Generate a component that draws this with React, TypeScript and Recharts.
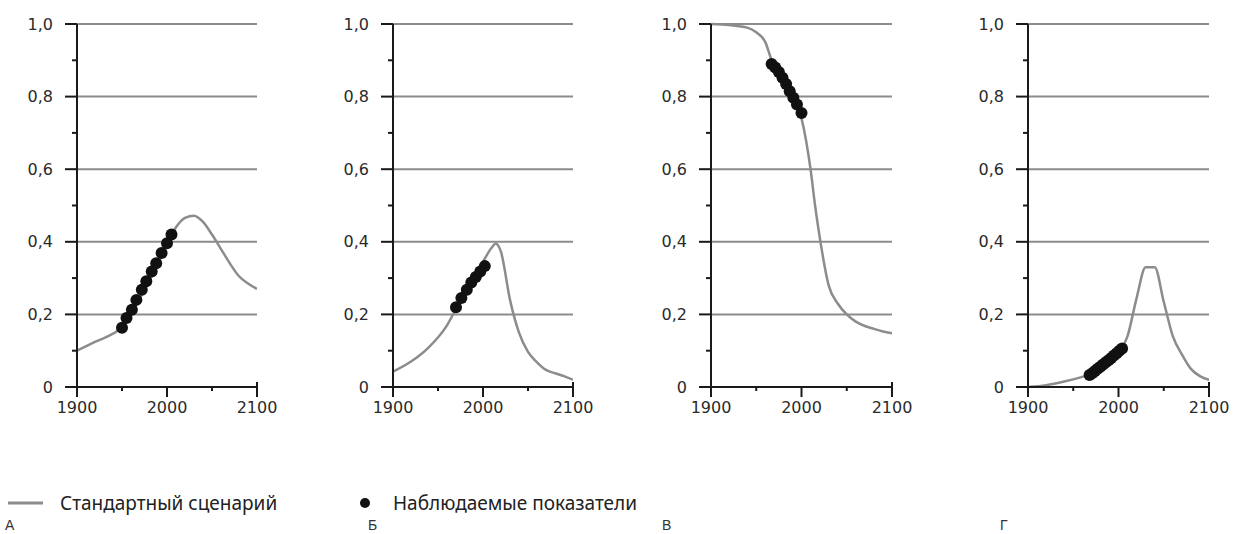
import { ComposedChart, Line, Scatter, XAxis, YAxis, ReferenceLine } from 'recharts'

const xTicks = [1900, 1950, 2000, 2050, 2100]
const xLabels = ['1900', '', '2000', '', '2100']
const yTicks = [0, 0.1, 0.2, 0.3, 0.4, 0.5, 0.6, 0.7, 0.8, 0.9, 1.0]
const yLabels = ['0', '', '0,2', '', '0,4', '', '0,6', '', '0,8', '', '1,0']
const gridValues = [0.2, 0.4, 0.6, 0.8, 1.0]

// А
const yearsA = [1900, 1920, 1945, 1950, 1960, 1970, 1980, 1990, 2000, 2010, 2020, 2030, 2040, 2050, 2060, 2070, 2080, 2090, 2100]
const lineA = [0.1, 0.124, 0.155, 0.165, 0.2, 0.245, 0.29, 0.34, 0.395, 0.44, 0.466, 0.472, 0.455, 0.42, 0.38, 0.34, 0.305, 0.285, 0.27]
const dotYearsA = [1950, 1955, 1961, 1966, 1972, 1977, 1983, 1988, 1994, 2000, 2005]
const dotsA = [0.163, 0.19, 0.213, 0.24, 0.268, 0.291, 0.318, 0.341, 0.369, 0.396, 0.42]

// Б
const yearsB = [1900, 1920, 1940, 1960, 1970, 1980, 1990, 2000, 2010, 2014, 2020, 2030, 2040, 2050, 2060, 2070, 2080, 2090, 2100]
const lineB = [0.042, 0.07, 0.11, 0.17, 0.215, 0.26, 0.3, 0.345, 0.385, 0.395, 0.372, 0.24, 0.15, 0.097, 0.068, 0.047, 0.038, 0.03, 0.02]
const dotYearsB = [1970, 1976, 1982, 1987, 1992, 1997, 2002]
const dotsB = [0.22, 0.245, 0.268, 0.288, 0.303, 0.318, 0.333]

// В
const yearsC = [1900, 1920, 1940, 1950, 1960, 1967, 1980, 1990, 2000, 2005, 2010, 2015, 2020, 2030, 2040, 2050, 2060, 2070, 2080, 2090, 2100]
const lineC = [1.0, 0.997, 0.99, 0.977, 0.95, 0.9, 0.845, 0.8, 0.74, 0.68, 0.6, 0.5, 0.415, 0.28, 0.23, 0.2, 0.18, 0.168, 0.16, 0.153, 0.148]
const dotYearsC = [1967, 1971, 1975, 1979, 1983, 1987, 1991, 1995, 2000]
const dotsC = [0.89, 0.88, 0.868, 0.852, 0.835, 0.815, 0.797, 0.778, 0.755]

// Г
const yearsD = [1900, 1920, 1940, 1960, 1970, 1980, 1990, 2000, 2010, 2020, 2030, 2040, 2050, 2060, 2070, 2080, 2090, 2100]
const lineD = [0.0, 0.005, 0.015, 0.028, 0.036, 0.052, 0.07, 0.092, 0.14, 0.245, 0.33, 0.33, 0.235, 0.14, 0.09, 0.05, 0.03, 0.02]
const dotYearsD = [1968, 1971, 1974, 1977, 1980, 1983, 1986, 1989, 1992, 1995, 1998, 2001, 2004]
const dotsD = [0.033, 0.038, 0.044, 0.05, 0.056, 0.062, 0.068, 0.074, 0.08, 0.087, 0.093, 0.1, 0.106]

const panelLetters = ['А', 'Б', 'В', 'Г']
const legendLine = 'Стандартный сценарий'
const legendDots = 'Наблюдаемые показатели'

const zip = (years: number[], vals: number[]) => years.map((year, i) => ({ year, v: vals[i] }))

const panels = [
  { left: 77, width: 180, line: zip(yearsA, lineA), dots: zip(dotYearsA, dotsA) },
  { left: 393, width: 180, line: zip(yearsB, lineB), dots: zip(dotYearsB, dotsB) },
  { left: 711, width: 181, line: zip(yearsC, lineC), dots: zip(dotYearsC, dotsC) },
  { left: 1028, width: 181, line: zip(yearsD, lineD), dots: zip(dotYearsD, dotsD) },
]

const INK = '#1a1a1a'
const GREY = '#8c8c8c'
const TICK_FONT = '"DejaVu Sans", sans-serif'

function XTick(props: any) {
  const { x, y, payload } = props
  const idx = xTicks.indexOf(payload.value)
  const label = xLabels[idx] ?? ''
  const major = label !== ''
  const last = payload.value === 2100
  return (
    <g>
      <line x1={x} x2={x} y1={last ? y - 5 : y} y2={y + (major ? 10 : 4)} stroke={INK} strokeWidth={2} />
      {major && (
        <text x={x} y={y + 26} textAnchor="middle" fontSize={16} fontFamily={TICK_FONT} fill="#2a2a2a">
          {label}
        </text>
      )}
    </g>
  )
}

function YTick(props: any) {
  const { x, y, payload } = props
  const idx = yTicks.findIndex((t) => Math.abs(t - payload.value) < 1e-6)
  const label = yLabels[idx] ?? ''
  const major = label !== ''
  return (
    <g>
      <line x1={x - (major ? 12 : 5)} x2={x} y1={y} y2={y} stroke={INK} strokeWidth={2} />
      {major && (
        <text x={x - 24} y={y} dy="0.35em" textAnchor="end" fontSize={16} fontFamily={TICK_FONT} fill="#2a2a2a">
          {label}
        </text>
      )}
    </g>
  )
}

const Dot = (p: any) => <circle cx={p.cx} cy={p.cy} r={6} fill="#111" />

function Panel({ left, width, line, dots }: (typeof panels)[number]) {
  const yAxisW = 60
  const right = 30
  return (
    <div style={{ position: 'absolute', left: left - yAxisW, top: 0 }}>
      <ComposedChart width={yAxisW + width + right} height={430} margin={{ top: 24, right, left: 0, bottom: 0 }}>
        {gridValues.map((g) => (
          <ReferenceLine key={g} y={g} stroke={GREY} strokeWidth={2} />
        ))}
        <XAxis
          type="number"
          dataKey="year"
          domain={[1900, 2100]}
          ticks={xTicks}
          allowDataOverflow
          height={43}
          tickSize={0}
          tickMargin={0}
          tickLine={false}
          axisLine={{ stroke: INK, strokeWidth: 2 }}
          tick={<XTick />}
          interval={0}
        />
        <YAxis
          type="number"
          dataKey="v"
          domain={[0, 1]}
          ticks={yTicks}
          width={yAxisW}
          tickSize={0}
          tickMargin={0}
          tickLine={false}
          axisLine={{ stroke: INK, strokeWidth: 2 }}
          tick={<YTick />}
          interval={0}
        />
        <Line
          data={line}
          dataKey="v"
          type="monotone"
          stroke={GREY}
          strokeWidth={2.5}
          dot={false}
          activeDot={false}
          isAnimationActive={false}
        />
        <Scatter data={dots} dataKey="v" shape={Dot} isAnimationActive={false} />
      </ComposedChart>
    </div>
  )
}

export default function App() {
  const letterX = [5, 368, 662, 1000]
  return (
    <div style={{ position: 'absolute', left: 0, top: 0, width: 1236, height: 534, background: '#fff', overflow: 'hidden' }}>
      {panels.map((p, i) => (
        <Panel key={i} {...p} />
      ))}
      <svg width={1236} height={54} style={{ position: 'absolute', left: 0, top: 480 }}>
        <line x1={8} x2={43} y1={23} y2={23} stroke={GREY} strokeWidth={3} />
        <text x={60} y={23} dominantBaseline="central" fontSize={19} fontFamily='"Noto Sans", sans-serif' fill="#222">
          {legendLine}
        </text>
        <circle cx={365} cy={23} r={5} fill="#111" />
        <text x={393} y={23} dominantBaseline="central" fontSize={19} fontFamily='"Noto Sans", sans-serif' fill="#222">
          {legendDots}
        </text>
        {panelLetters.map((l, i) => (
          <text key={l} x={letterX[i]} y={45} dominantBaseline="central" fontSize={14} fontFamily='"Liberation Sans", sans-serif' fill="#333">
            {l}
          </text>
        ))}
      </svg>
    </div>
  )
}
